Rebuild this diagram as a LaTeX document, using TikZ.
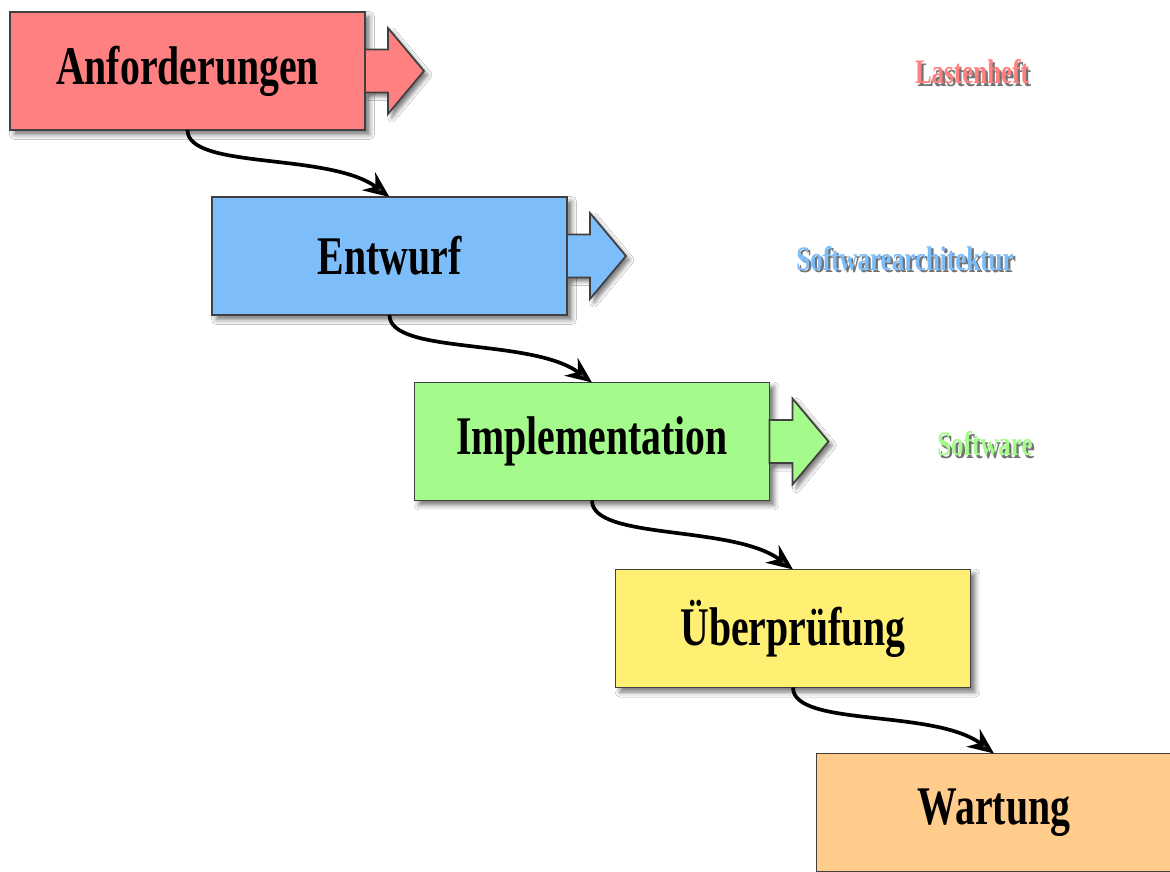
\documentclass[tikz,border=0pt]{standalone}
\usepackage{fontspec}
\setmainfont{Liberation Serif}[FakeStretch=0.73]
\usetikzlibrary{arrows.meta}
\usetikzlibrary{shadows.blur}
\definecolor{phasered}{RGB}{255,128,128}
\definecolor{phaseblue}{RGB}{125,190,250}
\definecolor{phasegreen}{RGB}{165,250,140}
\definecolor{phaseyellow}{RGB}{255,240,115}
\definecolor{phaseorange}{RGB}{255,204,140}
\newcommand{\shadowlabel}[2]{\rlap{\hspace{1.3pt}\raisebox{-1.3pt}{\color{black!55}#2}}{\color{#1}#2}}
\tikzset{   phase/.style = {rectangle, draw = black!75, line width = 1pt, minimum width = 7.1cm, minimum height = 2.36cm, inner sep = 0pt, outer sep = 0pt,
                            font = \fontsize{31}{37}\selectfont\bfseries,
                            blur shadow = {shadow xshift = 0.09cm, shadow yshift = -0.09cm, shadow blur radius = 0.1cm, shadow opacity = 55}},
            outarrow/.style = {draw = black!75, line width = 1pt,
                            blur shadow = {shadow xshift = 0.08cm, shadow yshift = -0.08cm, shadow blur radius = 0.08cm, shadow opacity = 50}},
            result/.style = {font = \fontsize{19.5}{23}\selectfont\bfseries, inner sep = 0pt},
            flow/.style = {line width = 2.1pt, -{Stealth[length = 0.52cm, width = 0.44cm]}}}
\begin{document}
\begin{tikzpicture}[x=0.02cm, y=-0.02cm]
                        \useasboundingbox[fill=white] (0,0) rectangle (1170,872);
                        \node[phase, fill = phasered] (req) at (187.5, 71) {Anforderungen};
                        \node[phase, fill = phaseblue] (des) at (389.5, 256) {Entwurf};
                        \node[phase, fill = phasegreen] (imp) at (592, 441.5) {Implementation};
                        \node[phase, fill = phaseyellow] (tst) at (793, 628.5) {Überprüfung};
                        \node[phase, fill = phaseorange] (mnt) at (994, 812.5) {Wartung};
                        \draw[outarrow, fill = phasered] (req.east) ++(0,-21.5) -- ++(23,0) -- ++(0,-21.5) -- ++(36,43) -- ++(-36,43) -- ++(0,-21.5) -- ++(-23,0) -- cycle;
                        \draw[outarrow, fill = phaseblue] (des.east) ++(0,-21.5) -- ++(23,0) -- ++(0,-21.5) -- ++(36,43) -- ++(-36,43) -- ++(0,-21.5) -- ++(-23,0) -- cycle;
                        \draw[outarrow, fill = phasegreen] (imp.east) ++(0,-21.5) -- ++(23,0) -- ++(0,-21.5) -- ++(36,43) -- ++(-36,43) -- ++(0,-21.5) -- ++(-23,0) -- cycle;
                        \node[result] (lst) at (972, 73) {\shadowlabel{phasered}{Lastenheft}};
                        \node[result] (arch) at (905, 260) {\shadowlabel{phaseblue}{Softwarearchitektur}};
                        \node[result] (sw) at (985, 445) {\shadowlabel{phasegreen}{Software}};
                        \draw[flow] (req.south) .. controls +(0,40) and +(-60,-45) .. (des.north);
                        \draw[flow] (des.south) .. controls +(0,40) and +(-60,-45) .. (imp.north);
                        \draw[flow] (imp.south) .. controls +(0,40) and +(-60,-45) .. (tst.north);
                        \draw[flow] (tst.south) .. controls +(0,40) and +(-60,-45) .. (mnt.north);
                      \end{tikzpicture}
\end{document}
